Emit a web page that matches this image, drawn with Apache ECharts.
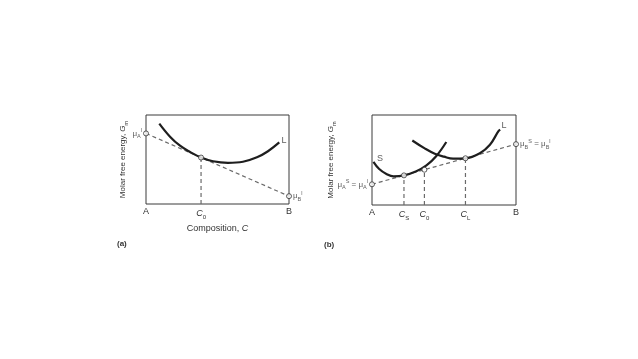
<!DOCTYPE html>
<html>
<head>
<meta charset="utf-8">
<script src="https://cdn.jsdelivr.net/npm/echarts@6/dist/echarts.min.js"></script>
<style>
html,body{margin:0;padding:0;background:#fff;}
#chart{width:638px;height:359px;}
</style>
</head>
<body>
<div id="chart"></div>
<script>
// ---- Data (composition 0 = A, 1 = B; energy 0..1 in plot units) ----
// Panel (a)
const aLiquidCurve = [[0.093,0.904],[0.168,0.757],[0.238,0.655],[0.308,0.585],[0.385,0.522],[0.469,0.480],[0.573,0.463],[0.678,0.475],[0.776,0.525],[0.853,0.593],[0.932,0.692]];
const aTangent = [[0,0.793],[1,0.088]];
const aC0 = [0.385,0.522];
const aTickValues = [0, 0.385, 1];
const aTickLabels = ['A', '{i|C}{s|0}', 'B'];
// Panel (b)
const bSolidCurve = [[0.010,0.480],[0.05,0.40],[0.10,0.345],[0.15,0.318],[0.222,0.329],[0.308,0.375],[0.378,0.44],[0.447,0.545],[0.516,0.700]];
const bLiquidCurve = [[0.280,0.717],[0.366,0.629],[0.436,0.570],[0.50,0.537],[0.563,0.515],[0.649,0.519],[0.749,0.575],[0.819,0.669],[0.877,0.818],[0.890,0.838]];
const bTangent = [[0,0.23],[1,0.676]];
const bCs = [0.222,0.329];
const bC0 = [0.364,0.392];
const bCL = [0.649,0.519];
const bTickValues = [0, 0.222, 0.364, 0.649, 1];
const bTickLabels = ['A', '{i|C}{s|S}', '{i|C}{s|0}', '{i|C}{s|L}', 'B'];
// curve name labels [x, y, text]
const aCurveNames = [[0.965,0.717,'L']];
const bCurveNames = [[0.916,0.882,'L'],[0.056,0.511,'S']];
// end-point labels
const aMuLeft = '{m|μ}{s|A}{p|l}';
const aMuRight = '{m|μ}{s|B}{p|l}';
const bMuLeft = '{m|μ}{s|A}{p|S}{m| = μ}{s|A}{p|l}';
const bMuRight = '{m|μ}{s|B}{p|S}{m| = μ}{s|B}{p|l}';

const FONT = 'Liberation Sans';
const TXT = '#333';
function mkRich(big, small){
  return {
    i:{fontStyle:'italic',fontSize:big,color:TXT,fontFamily:FONT,lineHeight:big+4,verticalAlign:'middle'},
    m:{fontSize:big,color:TXT,fontFamily:FONT,lineHeight:big+4,verticalAlign:'middle'},
    s:{fontSize:small,color:TXT,fontFamily:FONT,lineHeight:big+4,verticalAlign:'bottom'},
    p:{fontSize:small,color:TXT,fontFamily:FONT,lineHeight:big+4,verticalAlign:'top'}
  };
}
const richAxis = mkRich(9, 6);
const richMu = mkRich(8, 5.5);
const richTitle = mkRich(8, 5.5);

const chart = echarts.init(document.getElementById('chart'), null, {renderer:'canvas'});

function xAxisCfg(idx, values, labels, name){
  return {
    type:'value', gridIndex:idx, min:0, max:1,
    axisLine:{show:false}, axisTick:{show:false}, splitLine:{show:false},
    axisLabel:{show:true, customValues:values, margin:3, color:TXT, fontSize:9, fontFamily:FONT,
      formatter:function(v){ const k = values.indexOf(v); return k>=0 ? labels[k] : ''; }, rich:richAxis},
    name:name, nameLocation:'middle', nameGap:18,
    nameTextStyle:{color:TXT, fontSize:9, fontFamily:FONT, rich:richAxis}
  };
}
function yAxisCfg(idx, gap){
  return {
    type:'value', gridIndex:idx, min:0, max:1,
    axisLine:{show:false}, axisTick:{show:false}, splitLine:{show:false}, axisLabel:{show:false},
    name:'{m|Molar free energy, }{i|G}{s|m}', nameLocation:'middle', nameRotate:90, nameGap:gap,
    nameTextStyle:{color:TXT, fontSize:8, fontFamily:FONT, rich:richTitle}
  };
}
function curve(idx, data){
  return {type:'line', xAxisIndex:idx, yAxisIndex:idx, data:data, smooth:0.4, symbol:'none',
    lineStyle:{color:'#1e1e1e', width:2.2}, z:3, silent:true};
}
function dashed(idx, data){
  return {type:'line', xAxisIndex:idx, yAxisIndex:idx, data:data, symbol:'none',
    lineStyle:{color:'#6a6a6a', width:1.2, type:[4,3]}, z:2, silent:true};
}
function drop(idx, p){ return dashed(idx, [[p[0],0],[p[0],p[1]]]); }
function points(idx, data){
  return {type:'scatter', xAxisIndex:idx, yAxisIndex:idx, data:data, symbol:'circle', symbolSize:5,
    itemStyle:{color:'#fff', borderColor:'#333', borderWidth:1}, z:5, silent:true};
}
function names(idx, list){
  return {type:'scatter', xAxisIndex:idx, yAxisIndex:idx, symbolSize:0, silent:true, z:6,
    data:list.map(d=>({value:[d[0],d[1]], label:{show:true, position:'inside', formatter:d[2],
      color:TXT, fontSize:9, fontFamily:FONT}}))};
}
function muLabel(idx, p, text, pos){
  return {type:'scatter', xAxisIndex:idx, yAxisIndex:idx, symbolSize:0, silent:true, z:6,
    data:[{value:p, label:{show:true, position:pos, distance:4, formatter:text, rich:richMu}}]};
}

chart.setOption({
  animation:false,
  backgroundColor:'#fff',
  grid:[
    {left:146, top:115, width:143, height:89, show:true, borderColor:'#3a3a3a', borderWidth:1, backgroundColor:'transparent'},
    {left:372, top:115, width:144, height:90, show:true, borderColor:'#3a3a3a', borderWidth:1, backgroundColor:'transparent'}
  ],
  xAxis:[ xAxisCfg(0, aTickValues, aTickLabels, '{m|Composition, }{i|C}'), xAxisCfg(1, bTickValues, bTickLabels, '') ],
  yAxis:[ yAxisCfg(0, 17), yAxisCfg(1, 35) ],
  graphic:[
    {type:'text', left:117, top:240, style:{text:'(a)', fontSize:8, fontWeight:'bold', fill:'#333', fontFamily:FONT}},
    {type:'text', left:324, top:241, style:{text:'(b)', fontSize:8, fontWeight:'bold', fill:'#333', fontFamily:FONT}}
  ],
  series:[
    dashed(0, aTangent),
    drop(0, aC0),
    curve(0, aLiquidCurve),
    points(0, [aTangent[0], aTangent[1], aC0]),
    names(0, aCurveNames),
    muLabel(0, aTangent[0], aMuLeft, 'left'),
    muLabel(0, aTangent[1], aMuRight, 'right'),

    dashed(1, bTangent),
    drop(1, bCs), drop(1, bC0), drop(1, bCL),
    curve(1, bSolidCurve),
    curve(1, bLiquidCurve),
    points(1, [bTangent[0], bTangent[1], bCs, bC0, bCL]),
    names(1, bCurveNames),
    muLabel(1, bTangent[0], bMuLeft, 'left'),
    muLabel(1, bTangent[1], bMuRight, 'right')
  ]
});
</script>
</body>
</html>
